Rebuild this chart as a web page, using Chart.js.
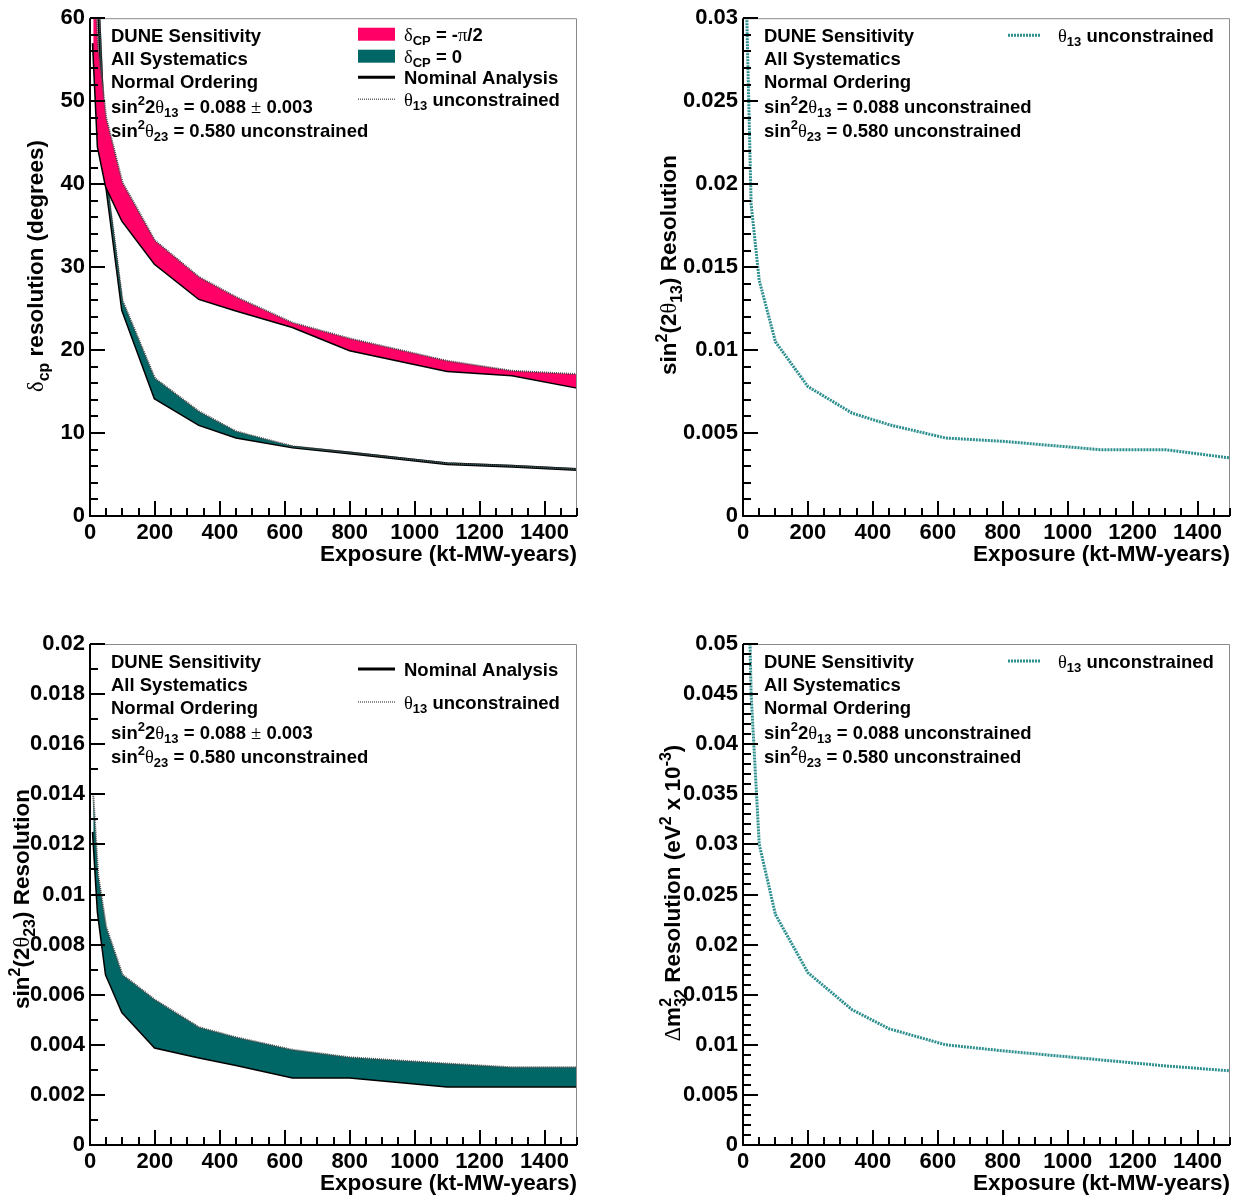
<!DOCTYPE html>
<html>
<head>
<meta charset="utf-8">
<script src="https://cdn.jsdelivr.net/npm/chart.js@4.4.0/dist/chart.umd.min.js"></script>
<style>
  body { margin: 0; background: #fff; width: 1240px; height: 1200px; position: relative; overflow: hidden; }
  .panel { position: absolute; width: 620px; height: 600px; }
</style>
</head>
<body>
<div class="panel" style="left:0;top:0"><canvas id="dcp" width="620" height="600"></canvas></div>
<div class="panel" style="left:620px;top:0"><canvas id="th13" width="620" height="600"></canvas></div>
<div class="panel" style="left:0;top:600px"><canvas id="th23" width="620" height="600"></canvas></div>
<div class="panel" style="left:620px;top:600px"><canvas id="dm32" width="620" height="600"></canvas></div>
<script>
// --- Data ---
const exposure = [10, 25, 50, 100, 200, 336, 450, 624, 800, 1100, 1300, 1500];

const dcpNomMinusPi2 = [57, 44.5, 39.7, 35.6, 30.4, 26.2, 24.8, 22.8, 20.0, 17.5, 17.0, 15.5];
const dcpUncMinusPi2 = [68, 56.5, 48, 40.2, 33.2, 28.8, 26.4, 23.3, 21.4, 18.7, 17.5, 17.1];
const dcpNomZero     = [95, 62, 40, 24.8, 14.2, 11.0, 9.5, 8.3, 7.6, 6.3, 6.0, 5.6];
const dcpUncZero     = [98, 64, 41, 26.0, 16.6, 12.6, 10.2, 8.4, 7.65, 6.35, 6.05, 5.65];

const th13Unc = [0.0315, 0.0188, 0.0142, 0.0105, 0.0078, 0.0062, 0.0055, 0.0047, 0.0045, 0.0040, 0.0040, 0.0035];

const th23Nom = [0.0125, 0.0093, 0.0068, 0.0053, 0.0039, 0.0035, 0.0032, 0.0027, 0.0027, 0.00235, 0.00235, 0.00235];
const th23Unc = [0.0140, 0.0108, 0.0087, 0.0068, 0.0058, 0.0047, 0.0043, 0.0038, 0.0035, 0.00325, 0.0031, 0.0031];

const dm32Unc = [0.068, 0.045, 0.030, 0.023, 0.0172, 0.0135, 0.0116, 0.0100, 0.0094, 0.0085, 0.0079, 0.0074];

// --- Tick labels ---
const xTicks = [0, 200, 400, 600, 800, 1000, 1200, 1400];
const yTicksDcp = [0, 10, 20, 30, 40, 50, 60];
const yTicksTh13 = [0, 0.005, 0.01, 0.015, 0.02, 0.025, 0.03];
const yTicksTh23 = [0, 0.002, 0.004, 0.006, 0.008, 0.01, 0.012, 0.014, 0.016, 0.018, 0.02];
const yTicksDm32 = [0, 0.005, 0.01, 0.015, 0.02, 0.025, 0.03, 0.035, 0.04, 0.045, 0.05];

// --- Styles ---
const PINK = '#ff0066';
const TEAL = '#006666';
const TEAL_LINE = '#2e8f8f';
const FONT = '"Liberation Sans", Arial, Helvetica, sans-serif';
const GREEK = '"Liberation Serif", "Times New Roman", serif';
const G = 'g', SUP = 'sup', SUB = 'sub', SS = 'ss';

// --- Rich text (sub/superscripts) ---
function partFont(kind, size) {
  if (kind === G) return size + 'px ' + GREEK;
  if (kind === SUP || kind === SUB || kind === SS) return 'bold ' + Math.round(size * 0.7) + 'px ' + FONT;
  return 'bold ' + size + 'px ' + FONT;
}
function partWidth(ctx, p, size) {
  ctx.font = partFont(p[1], size);
  if (p[1] === SS) {
    const [a, b] = p[0].split('|');
    return Math.max(ctx.measureText(a).width, ctx.measureText(b).width);
  }
  return ctx.measureText(p[0]).width;
}
function drawRich(ctx, parts, x, y, size, align) {
  let w = 0;
  parts.forEach(p => { w += partWidth(ctx, p, size); });
  let cx = align === 'right' ? x - w : align === 'center' ? x - w / 2 : x;
  const base = y + size * 0.36;
  ctx.textAlign = 'left';
  ctx.textBaseline = 'alphabetic';
  ctx.fillStyle = '#000';
  parts.forEach(p => {
    const kind = p[1];
    ctx.font = partFont(kind, size);
    if (kind === SUP) ctx.fillText(p[0], cx, base - size * 0.42);
    else if (kind === SUB) ctx.fillText(p[0], cx, base + size * 0.25);
    else if (kind === SS) {
      const [a, b] = p[0].split('|');
      ctx.fillText(a, cx, base - size * 0.42);
      ctx.fillText(b, cx, base + size * 0.25);
    } else ctx.fillText(p[0], cx, base);
    cx += partWidth(ctx, p, size);
  });
}

// --- Texts ---
const leftNotes = [
  [['DUNE Sensitivity']],
  [['All Systematics']],
  [['Normal Ordering']],
  [['sin'], ['2', SUP], ['2'], ['θ', G], ['13', SUB], [' = 0.088 '], ['±', G], [' 0.003']],
  [['sin'], ['2', SUP], ['θ', G], ['23', SUB], [' = 0.580 unconstrained']]
];
const rightNotes = [
  [['DUNE Sensitivity']],
  [['All Systematics']],
  [['Normal Ordering']],
  [['sin'], ['2', SUP], ['2'], ['θ', G], ['13', SUB], [' = 0.088 unconstrained']],
  [['sin'], ['2', SUP], ['θ', G], ['23', SUB], [' = 0.580 unconstrained']]
];
const xTitle = [['Exposure (kt-MW-years)']];
const lgUnc = [['θ', G], ['13', SUB], [' unconstrained']];
const lgNom = [['Nominal Analysis']];

// --- Frame, ticks, labels in ROOT style ---
const rootFrame = {
  id: 'rootFrame',
  afterDraw(chart, args, o) {
    const ctx = chart.ctx;
    const { left, right, top, bottom } = chart.chartArea;
    const xs = chart.scales.x, ys = chart.scales.y;
    ctx.save();
    // thin grey top/right frame
    ctx.strokeStyle = '#8a8a8a';
    ctx.lineWidth = 1;
    ctx.beginPath();
    ctx.moveTo(left, top + 0.5); ctx.lineTo(right - 0.5, top + 0.5); ctx.lineTo(right - 0.5, bottom);
    ctx.stroke();
    // axes
    ctx.strokeStyle = '#000';
    ctx.lineWidth = 2;
    ctx.beginPath();
    ctx.moveTo(left, top); ctx.lineTo(left, bottom); ctx.lineTo(right, bottom);
    ctx.stroke();
    // inner ticks
    ctx.lineWidth = 2;
    ctx.beginPath();
    for (let i = 0; i * 50 <= 1500; i++) {
      const px = Math.round(xs.getPixelForValue(i * 50));
      const len = i % 4 === 0 ? 15 : 8;
      ctx.moveTo(px, bottom); ctx.lineTo(px, bottom - len);
    }
    const n = Math.round(ys.max / o.yMinor);
    for (let i = 0; i <= n; i++) {
      const py = Math.round(ys.getPixelForValue(i * o.yMinor));
      const len = i % o.yPer === 0 ? 15 : 8;
      ctx.moveTo(left, py); ctx.lineTo(left + len, py);
    }
    ctx.stroke();

    // notes
    o.notes.forEach((parts, i) => drawRich(ctx, parts, left + 21, top + [17, 40, 63, 88, 112][i], 18.5, 'left'));

    // legend
    o.legend.forEach(e => {
      const y = top + e.dy;
      if (e.kind === 'box') {
        ctx.fillStyle = e.color;
        ctx.fillRect(e.x0, y - 6.5, e.x1 - e.x0, 13);
      } else {
        ctx.strokeStyle = e.color;
        ctx.lineWidth = e.width;
        ctx.setLineDash(e.dash || []);
        ctx.beginPath(); ctx.moveTo(e.x0, y); ctx.lineTo(e.x1, y); ctx.stroke();
        ctx.setLineDash([]);
      }
      drawRich(ctx, e.text, e.tx, y, 18.5, 'left');
    });

    // axis titles
    drawRich(ctx, xTitle, right, bottom + 37, 22.5, 'right');
    ctx.translate(o.yTitleX, o.yTitleY);
    ctx.rotate(-Math.PI / 2);
    drawRich(ctx, o.yTitle, 0, 0, 22.5, 'center');
    ctx.restore();
  }
};
Chart.register(rootFrame);

const fmt = v => String(+(+v).toPrecision(6));
const tickFont = { family: FONT, size: 22, weight: 'bold' };

function pts(arr) { return exposure.map((x, i) => ({ x: x, y: arr[i] })); }

function makeChart(id, area, yMax, yTicks, datasets, frame) {
  return new Chart(document.getElementById(id), {
    type: 'line',
    data: { datasets: datasets },
    options: {
      responsive: false,
      animation: false,
      layout: { padding: { top: area.top, right: 620 - area.right, left: 0, bottom: 0 } },
      elements: { point: { radius: 0 }, line: { tension: 0 } },
      plugins: { legend: { display: false }, tooltip: { enabled: false }, rootFrame: frame },
      scales: {
        x: {
          type: 'linear', min: 0, max: 1500,
          grid: { display: false, drawTicks: false }, border: { display: false },
          afterFit: s => { s.height = 600 - area.bottom; },
          afterBuildTicks: s => { s.ticks = xTicks.map(v => ({ value: v })); },
          ticks: { font: tickFont, color: '#000', padding: 4, maxRotation: 0, autoSkip: false, callback: fmt }
        },
        y: {
          type: 'linear', min: 0, max: yMax,
          grid: { display: false, drawTicks: false }, border: { display: false },
          afterFit: s => { s.width = area.left; },
          afterBuildTicks: s => { s.ticks = yTicks.map(v => ({ value: v })); },
          ticks: { font: tickFont, color: '#000', padding: 5, autoSkip: false, callback: fmt }
        }
      }
    }
  });
}

const uncDotted = { borderColor: '#4a4a4a', borderWidth: 2, borderDash: [1, 1] };
const nomSolid = { borderColor: '#000', borderWidth: 3 };

// delta CP
makeChart('dcp', { left: 90, right: 577, top: 14, bottom: 516 }, 60, yTicksDcp, [
  Object.assign({ data: pts(dcpUncMinusPi2), fill: '+1', backgroundColor: PINK }, uncDotted),
  Object.assign({ data: pts(dcpNomMinusPi2), fill: false }, nomSolid),
  Object.assign({ data: pts(dcpUncZero), fill: '+1', backgroundColor: TEAL }, uncDotted),
  Object.assign({ data: pts(dcpNomZero), fill: false }, nomSolid)
], {
  yMinor: 2, yPer: 5, notes: leftNotes,
  yTitle: [['δ', G], ['cp', SUB], [' resolution (degrees)']], yTitleX: 35, yTitleY: 266,
  legend: [
    { kind: 'box', color: PINK, x0: 358, x1: 395, dy: 16, tx: 404, text: [['δ', G], ['CP', SUB], [' = -'], ['π', G], ['/2']] },
    { kind: 'box', color: TEAL, x0: 358, x1: 395, dy: 38, tx: 404, text: [['δ', G], ['CP', SUB], [' = 0']] },
    { kind: 'line', color: '#000', width: 3, x0: 358, x1: 395, dy: 59, tx: 404, text: lgNom },
    { kind: 'line', color: '#666', width: 1.5, dash: [1, 1], x0: 358, x1: 395, dy: 81, tx: 404, text: lgUnc }
  ]
});

// sin^2(2 theta13)
makeChart('th13', { left: 123, right: 610, top: 14, bottom: 516 }, 0.03, yTicksTh13, [
  { data: pts(th13Unc), fill: false, borderColor: TEAL_LINE, borderWidth: 3, borderDash: [2, 1] }
], {
  yMinor: 0.001, yPer: 5, notes: rightNotes,
  yTitle: [['sin'], ['2', SUP], ['(2'], ['θ', G], ['13', SUB], [') Resolution']], yTitleX: 48, yTitleY: 265,
  legend: [
    { kind: 'line', color: TEAL_LINE, width: 3, dash: [2, 1], x0: 388, x1: 420, dy: 17, tx: 438, text: lgUnc }
  ]
});

// sin^2(2 theta23)
makeChart('th23', { left: 90, right: 577, top: 44, bottom: 545 }, 0.02, yTicksTh23, [
  Object.assign({ data: pts(th23Unc), fill: '+1', backgroundColor: TEAL }, uncDotted),
  Object.assign({ data: pts(th23Nom), fill: false }, nomSolid)
], {
  yMinor: 0.001, yPer: 2, notes: leftNotes,
  yTitle: [['sin'], ['2', SUP], ['(2'], ['θ', G], ['23', SUB], [') Resolution']], yTitleX: 21, yTitleY: 299,
  legend: [
    { kind: 'line', color: '#000', width: 3, x0: 358, x1: 395, dy: 25, tx: 404, text: lgNom },
    { kind: 'line', color: '#666', width: 1.5, dash: [1, 1], x0: 358, x1: 395, dy: 58, tx: 404, text: lgUnc }
  ]
});

// delta m^2_32
makeChart('dm32', { left: 123, right: 610, top: 44, bottom: 545 }, 0.05, yTicksDm32, [
  { data: pts(dm32Unc), fill: false, borderColor: TEAL_LINE, borderWidth: 3, borderDash: [2, 1] }
], {
  yMinor: 0.001, yPer: 5, notes: rightNotes,
  yTitle: [['Δ', G], ['m'], ['2|32', SS], [' Resolution (eV'], ['2', SUP], [' x 10'], ['-3', SUP], [')']], yTitleX: 52, yTitleY: 293,
  legend: [
    { kind: 'line', color: TEAL_LINE, width: 3, dash: [2, 1], x0: 388, x1: 420, dy: 17, tx: 438, text: lgUnc }
  ]
});
</script>
</body>
</html>
